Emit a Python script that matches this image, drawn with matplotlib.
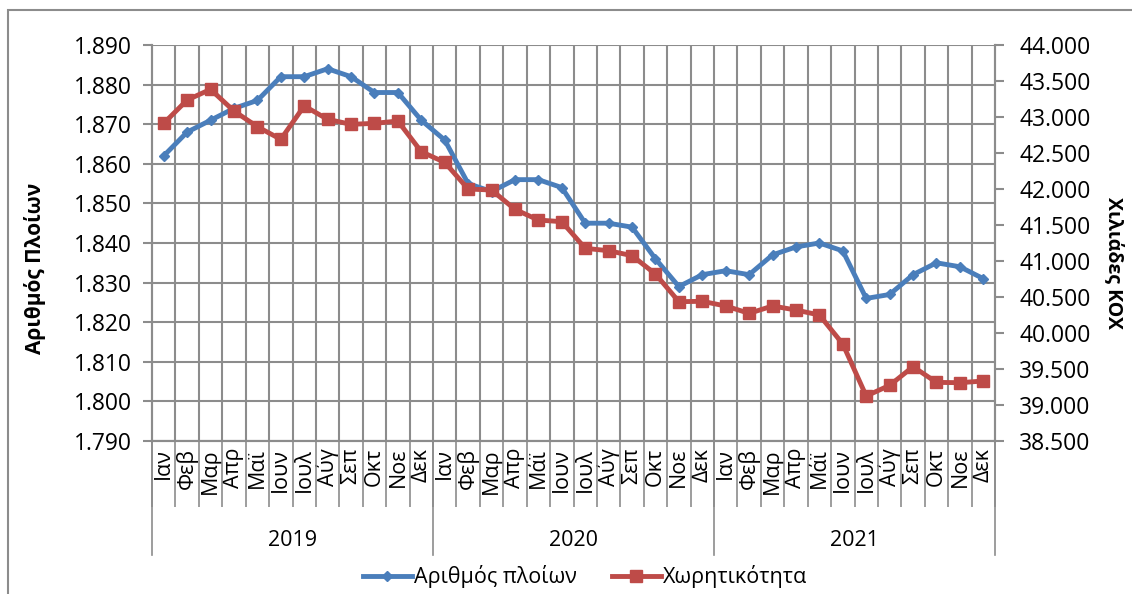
import matplotlib
matplotlib.use("Agg")
import matplotlib.pyplot as plt
from matplotlib.patches import Rectangle
from matplotlib.ticker import FuncFormatter, MultipleLocator

plt.rcParams['font.family'] = ['Open Sans', 'DejaVu Sans']

years = ["2019", "2020", "2021"]
months = [
    ["Ιαν", "Φεβ", "Μαρ", "Απρ", "Μαϊ", "Ιουν", "Ιουλ", "Αύγ", "Σεπ", "Οκτ", "Νοε", "Δεκ"],
    ["Ιαν", "Φεβ", "Μαρ", "Απρ", "Μάϊ", "Ιουν", "Ιουλ", "Αύγ", "Σεπ", "Οκτ", "Νοε", "Δεκ"],
    ["Ιαν", "Φεβ", "Μαρ", "Απρ", "Μάϊ", "Ιουν", "Ιουλ", "Αύγ", "Σεπ", "Οκτ", "Νοε", "Δεκ"],
]
ships = [1862, 1868, 1871, 1874, 1876, 1882, 1882, 1884, 1882, 1878, 1878, 1871,
         1866, 1855, 1853, 1856, 1856, 1854, 1845, 1845, 1844, 1836, 1829, 1832,
         1833, 1832, 1837, 1839, 1840, 1838, 1826, 1827, 1832, 1835, 1834, 1831]
capacity = [42912, 43236, 43384, 43083, 42865, 42690, 43153, 42968, 42898, 42912, 42944, 42518,
            42370, 42000, 41986, 41717, 41569, 41546, 41176, 41143, 41074, 40819, 40435, 40440,
            40375, 40273, 40375, 40319, 40250, 39847, 39125, 39273, 39532, 39314, 39310, 39333]

labels = [m for ys in months for m in ys]
x = list(range(len(labels)))

BLUE = "#4A7EBB"
RED = "#BE4B48"
GRID = "#8C8C8C"

W, H = 1132, 594
fig = plt.figure(figsize=(W / 100, H / 100), dpi=100)
# outer chart frame, only top and left edges fall inside the picture
fig.patches.append(Rectangle((8 / W, -0.05), 1.2, 1.05 - 10 / H, transform=fig.transFigure,
                             fill=False, edgecolor=GRID, linewidth=1.5))

ax = fig.add_axes([152 / W, (H - 441) / H, 843 / W, 396 / H])
ax2 = ax.twinx()

thousands = FuncFormatter(lambda v, p: f"{int(round(v)):,}".replace(",", "."))

ax.set_xlim(-0.5, len(labels) - 0.5)
ax.set_ylim(1790, 1890)
ax.yaxis.set_major_locator(MultipleLocator(10))
ax.yaxis.set_major_formatter(thousands)
ax2.set_ylim(38500, 44000)
ax2.yaxis.set_major_locator(MultipleLocator(500))
ax2.yaxis.set_major_formatter(thousands)

# grid
for k in range(1, len(labels)):
    ax.axvline(k - 0.5, color=GRID, linewidth=1.5, zorder=0)
ax.yaxis.grid(True, color=GRID, linewidth=1.5, zorder=0)
ax.set_axisbelow(True)

for a in (ax, ax2):
    for s in a.spines.values():
        s.set_color(GRID)
        s.set_linewidth(1.5)
ax2.spines['top'].set_visible(False)
ax.spines['top'].set_visible(False)

ax.tick_params(axis='y', direction='out', length=6.5, width=1.5, color=GRID, labelsize=16.5, pad=8)
ax2.tick_params(axis='y', direction='out', length=6.5, width=1.5, color=GRID, labelsize=16.5, pad=11)

ax.set_xticks(x)
ax.set_xticklabels(labels, rotation=90, fontsize=15.5)
ax.tick_params(axis='x', which='major', length=0, pad=5)
ax.set_xticks([k - 0.5 for k in range(len(labels) + 1)], minor=True)
ax.tick_params(axis='x', which='minor', direction='out', length=47.5, width=1.2, color=GRID)

trans = ax.get_xaxis_transform()
for i, yr in enumerate(years):
    ax.plot([12 * i - 0.5, 12 * i - 0.5], [0, -0.288], transform=trans, color=GRID,
            linewidth=1.2, clip_on=False)
    ax.text(12 * i + 5.5, -0.25, yr, transform=trans, ha='center', va='center', fontsize=15.5)
ax.plot([35.5, 35.5], [0, -0.288], transform=trans, color=GRID, linewidth=1.2, clip_on=False)

l1, = ax.plot(x, ships, color=BLUE, linewidth=3.5, marker='D', markersize=5,
              label="Αριθμός πλοίων", zorder=3)
l2, = ax2.plot(x, capacity, color=RED, linewidth=3.5, marker='s', markersize=8,
               label="Χωρητικότητα", zorder=3)

fig.text(35 / W, 1 - 268 / H, "Αριθμός Πλοίων", rotation=90, ha='center', va='center',
         fontsize=15, fontweight='bold')
fig.text(1114 / W, 1 - 263 / H, "Χιλιάδες ΚΟΧ", rotation=270, ha='center', va='center',
         fontsize=14, fontweight='bold')

fig.legend(handles=[l1, l2], loc='center', bbox_to_anchor=(585 / W, 1 - 577 / H), ncol=2,
           frameon=False, fontsize=15.5, handlelength=2.3, columnspacing=1.6, handletextpad=0.1)

fig.savefig("out.png", dpi=100)
